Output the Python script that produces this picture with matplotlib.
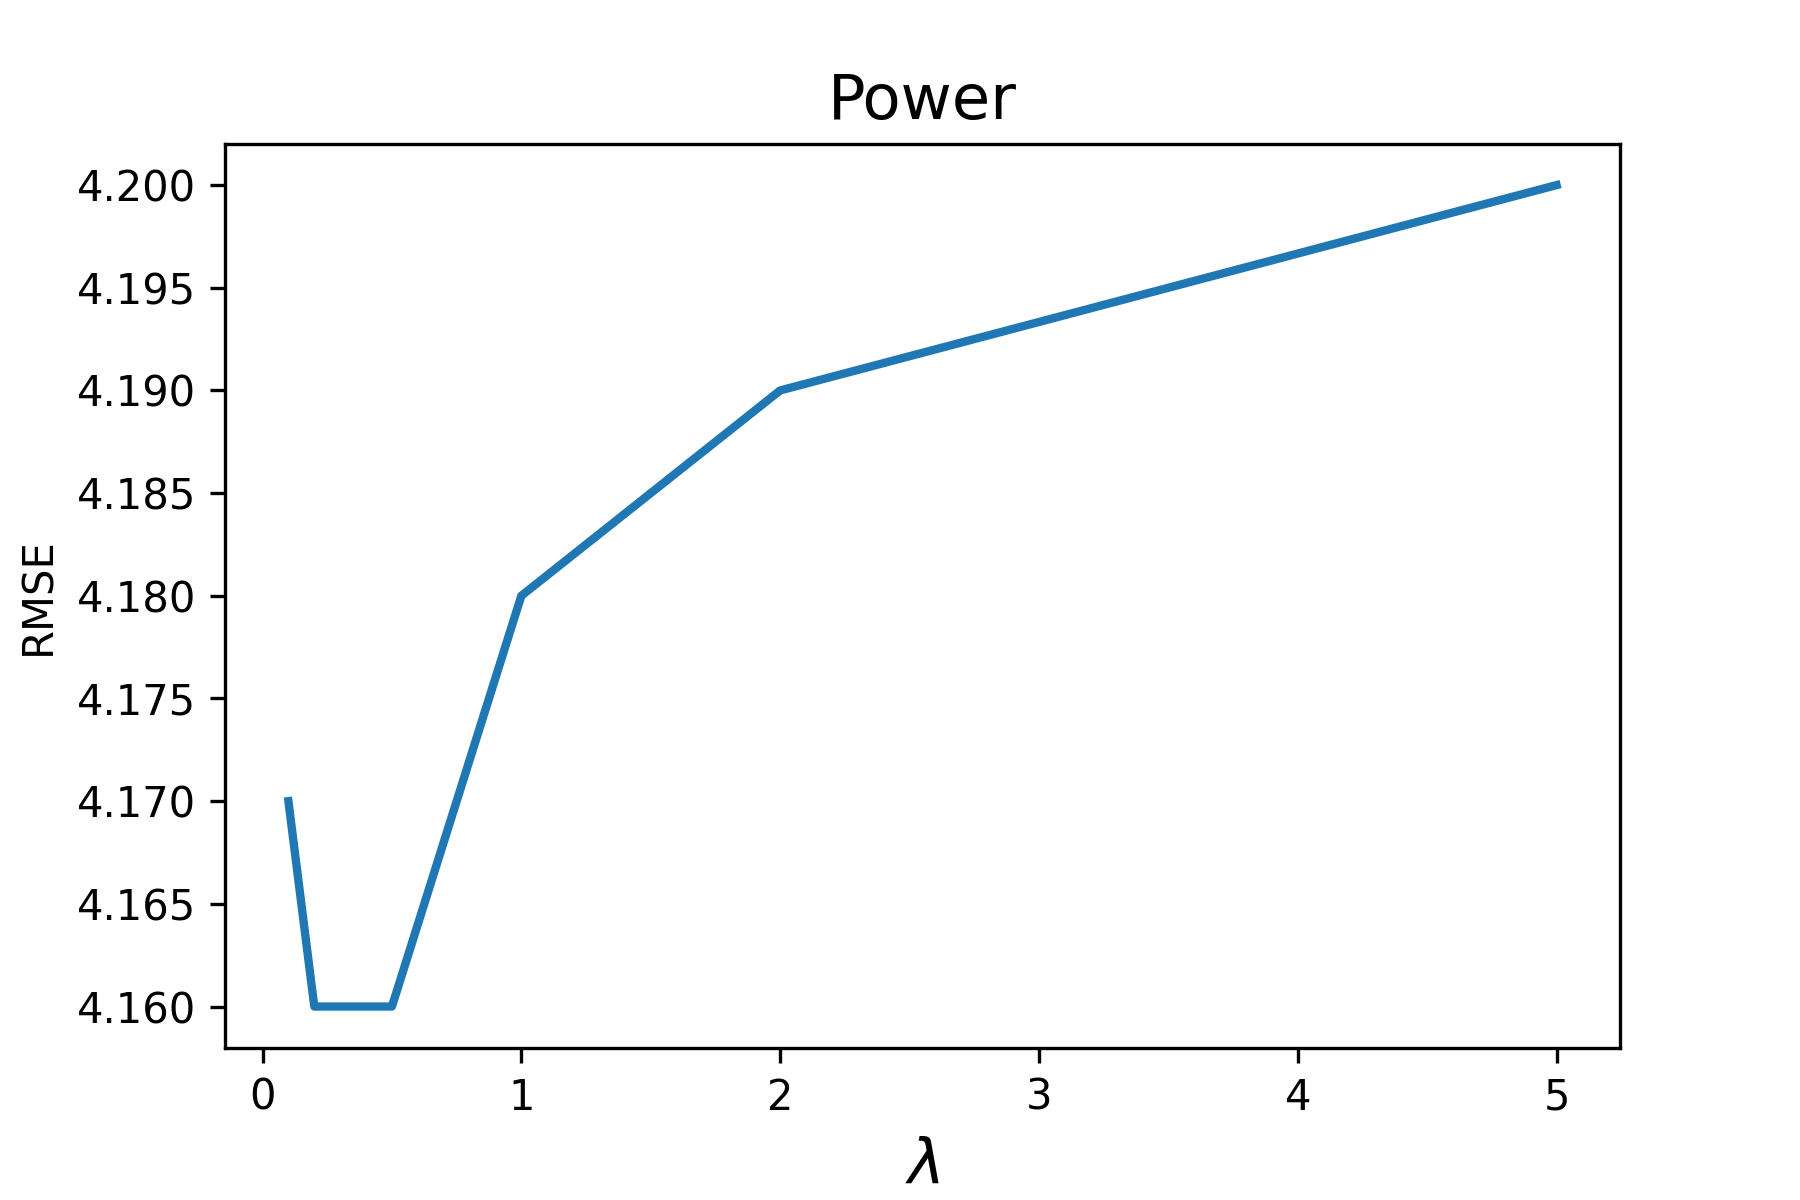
import numpy as np
import matplotlib
matplotlib.use('Agg')
from matplotlib import pyplot as plt

lam = [0.1, 0.2, 0.5, 1, 2, 5]
rmse = [4.17, 4.16, 4.16, 4.18, 4.19, 4.20]

fig = plt.figure(figsize=(6, 4), dpi=300)
ax = fig.add_subplot(111)
fig.subplots_adjust(bottom=0.127)
ax.plot(lam, rmse, color='#1f77b4', linewidth=2)
ax.set_title('Power', fontsize=15)
ax.set_xlabel(r'$\lambda$', fontsize=15)
ax.set_ylabel('RMSE')
ax.yaxis.set_major_formatter(matplotlib.ticker.FormatStrFormatter('%.3f'))
fig.savefig('out.png', dpi=300)
